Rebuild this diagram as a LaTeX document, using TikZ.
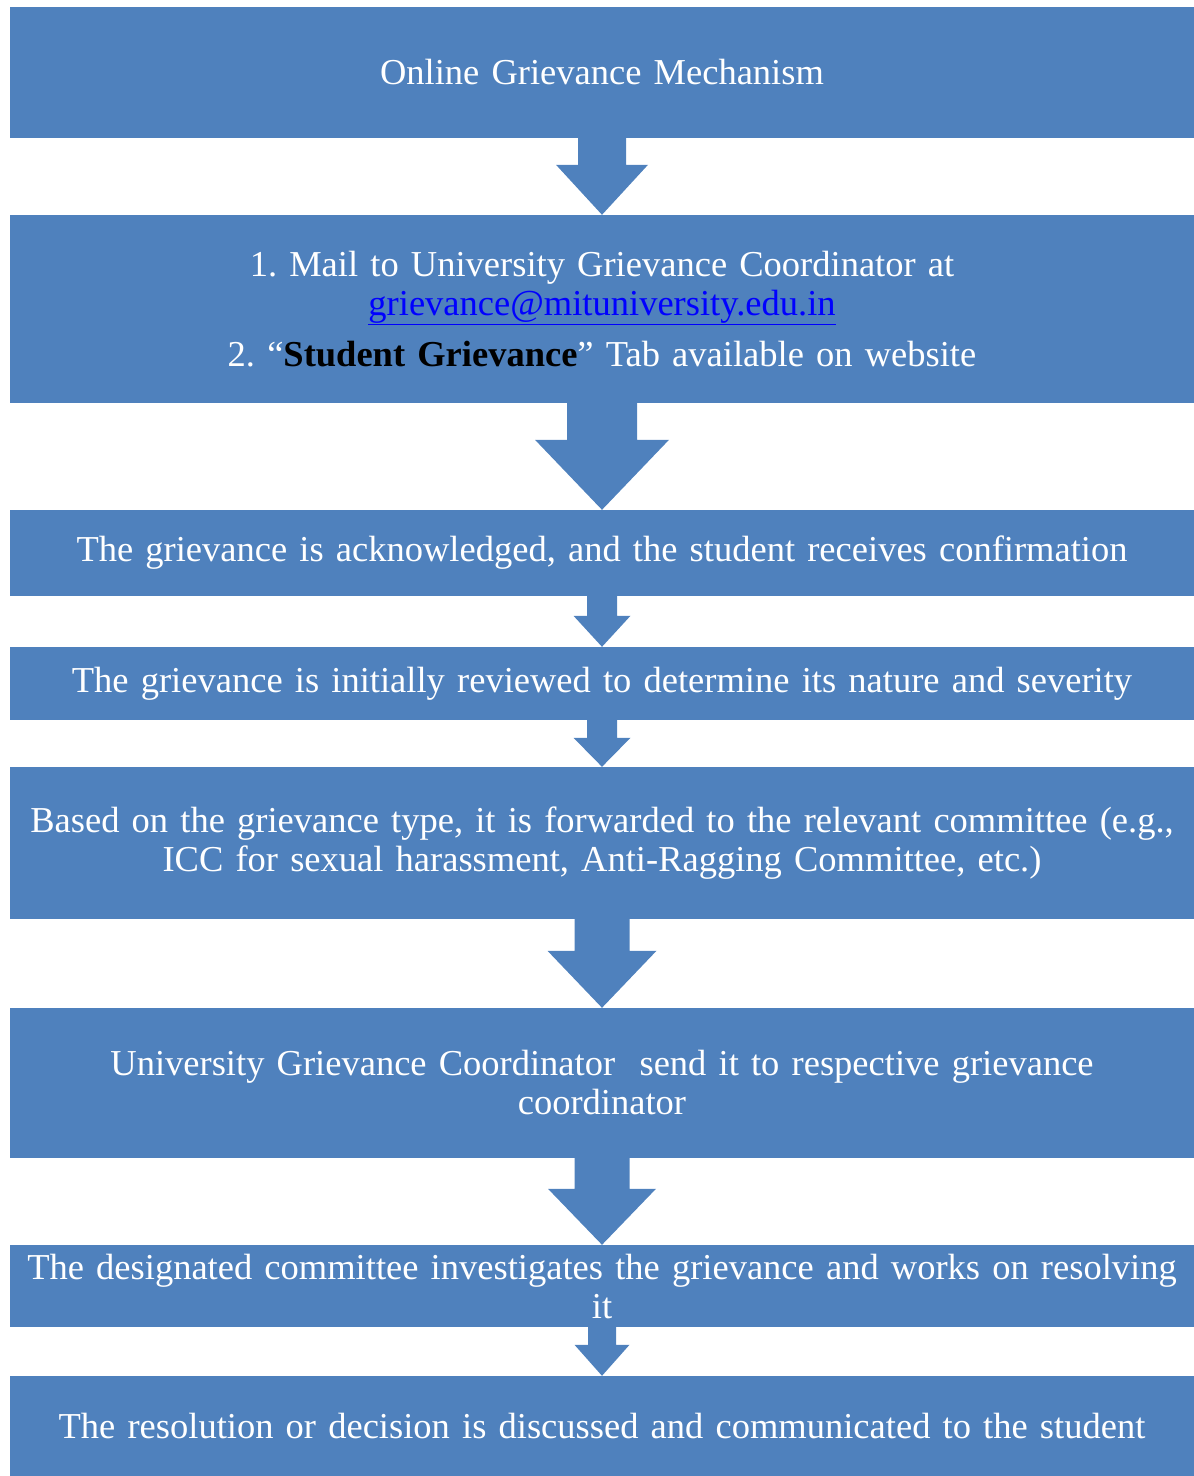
\documentclass[tikz,border=0pt]{standalone}
\usepackage{fontspec}
\setmainfont{Liberation Serif}
\usepackage{xcolor}
\usetikzlibrary{calc}
\definecolor{boxblue}{HTML}{4F81BD}
\definecolor{linkblue}{HTML}{0000FF}
\frenchspacing

% block arrow: from, to, shaft half width, head half width, head length
\newcommand{\blockarr}[5]{%
  \fill[boxblue] ($(#1.south)+(-#3,0)$) |- ($(#2.north)+(-#4,-#5)$) -- (#2.north)
    -- ($(#2.north)+(#4,-#5)$) -| ($(#1.south)+(#3,0)$) -- cycle;}

\begin{document}
\begin{tikzpicture}[x=1pt, y=-1pt,
    stepbox/.style={fill=boxblue, text=white, minimum width=1184pt, inner sep=0pt,
      text width=1180pt, align=center, font=\fontsize{36.5}{39}\selectfont}]
    \useasboundingbox (0,0) rectangle (1194,1476);

    % Boxes
    \node[stepbox, minimum height=131pt] (online) at (602,72.5) {Online Grievance Mechanism};
    \node[stepbox, minimum height=188pt] (mail) at (602,309) {1. Mail to University Grievance Coordinator at\\
      \textcolor{linkblue}{\underline{grievance@mituniversity.edu.in}}\\[12pt]
      2. “\textcolor{black}{\textbf{Student Grievance}}” Tab available on website};
    \node[stepbox, minimum height=86pt] (ack) at (602,553) {The grievance is acknowledged, and the student receives confirmation};
    \node[stepbox, minimum height=73pt] (review) at (602,683.5) {The grievance is initially reviewed to determine its nature and severity};
    \node[stepbox, minimum height=152pt] (forward) at (602,843) {Based on the grievance type, it is forwarded to the relevant committee (e.g.,\\
      ICC for sexual harassment, Anti-Ragging Committee, etc.)};
    \node[stepbox, minimum height=150pt] (coord) at (602,1083) {University Grievance Coordinator\ \ send it to respective grievance\\ coordinator};
    \node[stepbox, minimum height=82pt] (invest) at (602,1286) {The designated committee investigates the grievance and works on resolving\\ it};
    \node[stepbox, minimum height=100pt] (resolve) at (602,1426) {The resolution or decision is discussed and communicated to the student};

    % Arrows
    \blockarr{online}{mail}{24}{46}{50}
    \blockarr{mail}{ack}{35}{67}{70}
    \blockarr{ack}{review}{15}{28.5}{31}
    \blockarr{review}{forward}{15}{28.5}{29}
    \blockarr{forward}{coord}{27.5}{54.5}{57}
    \blockarr{coord}{invest}{27.5}{54}{56}
    \blockarr{invest}{resolve}{14}{27.5}{31}
\end{tikzpicture}
\end{document}
